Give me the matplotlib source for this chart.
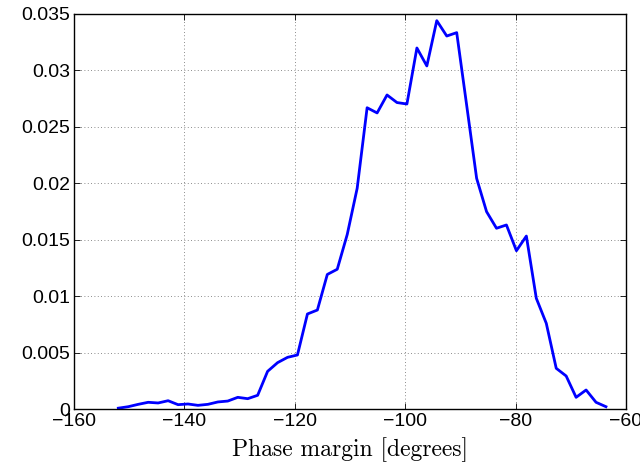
import matplotlib
matplotlib.use("Agg")
import matplotlib.pyplot as plt
from matplotlib.ticker import FuncFormatter

phase_margin = [-151.97, -150.17, -148.36, -146.56, -144.76, -142.95, -141.15, -139.35,
                -137.55, -135.74, -133.94, -132.14, -130.33, -128.53, -126.73, -124.93,
                -123.12, -121.32, -119.52, -117.71, -115.91, -114.11, -112.31, -110.50,
                -108.70, -106.90, -105.09, -103.29, -101.49, -99.69, -97.88, -96.08,
                -94.28, -92.47, -90.67, -88.87, -87.06, -85.26, -83.46, -81.66,
                -79.85, -78.05, -76.25, -74.44, -72.64, -70.84, -69.04, -67.23,
                -65.43, -63.63]
density = [0.0001, 0.00023, 0.00044, 0.00062, 0.00056, 0.00076, 0.00041, 0.00047,
           0.00035, 0.00044, 0.00065, 0.00073, 0.00106, 0.00094, 0.00124, 0.00336,
           0.00413, 0.00460, 0.00481, 0.00844, 0.00879, 0.01194, 0.01240, 0.01548,
           0.01957, 0.02670, 0.02624, 0.02783, 0.02716, 0.02703, 0.03199, 0.03040,
           0.03441, 0.03305, 0.03335, 0.02694, 0.02045, 0.01750, 0.01603, 0.01632,
           0.01404, 0.01534, 0.00983, 0.00761, 0.00363, 0.00295, 0.00106, 0.00171,
           0.00062, 0.00023]

xticks = [-160, -140, -120, -100, -80, -60]
yticks = [0, 0.005, 0.01, 0.015, 0.02, 0.025, 0.03, 0.035]

plt.rcParams['font.family'] = ['Liberation Sans', 'DejaVu Sans']

fig = plt.figure(figsize=(6.4, 4.68), dpi=100)
ax = fig.add_axes([74/640, 1 - 409.3/468, (626-74)/640, (409.3-14)/468])
ax.plot(phase_margin, density, color='#0000ff', linewidth=2.0)
ax.set_xlim(-160, -60)
ax.set_ylim(0, 0.035)
ax.set_xticks(xticks)
ax.set_yticks(yticks)
ax.xaxis.set_major_formatter(FuncFormatter(lambda v, p: ('\u2212%d' % abs(v)) if v < 0 else '%d' % v))
ax.yaxis.set_major_formatter(FuncFormatter(lambda v, p: '%g' % v))
ax.tick_params(direction='in', top=True, right=True, length=4, width=0.6,
               labelsize=14, pad=3)
ax.grid(True, linestyle=(0, (1, 3)), color='#666666', linewidth=0.6)
for s in ax.spines.values():
    s.set_linewidth(1.0)
ax.set_xlabel('Phase margin [degrees]', fontfamily=['cmr10', 'DejaVu Serif'],
              fontsize=17, labelpad=5)
fig.savefig('out.png', dpi=100)
